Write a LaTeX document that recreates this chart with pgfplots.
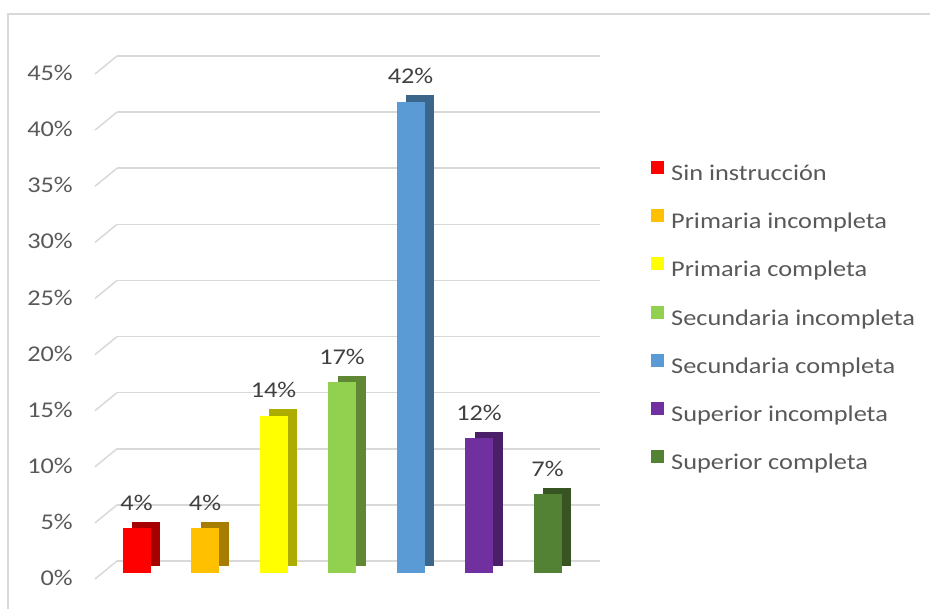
\documentclass[border=0pt]{standalone}
\usepackage{pgfplots}
\pgfplotsset{compat=1.18}
\usepackage{fontspec}
\setmainfont{Carlito}[FakeStretch=1.17]
\definecolor{gridc}{HTML}{D9D9D9}
\definecolor{txt}{HTML}{595959}
\definecolor{lbl}{HTML}{404040}
\definecolor{cA}{HTML}{FF0000}
\definecolor{cB}{HTML}{FFC000}
\definecolor{cC}{HTML}{FFFF00}
\definecolor{cD}{HTML}{92D050}
\definecolor{cE}{HTML}{5B9BD5}
\definecolor{cF}{HTML}{7030A0}
\definecolor{cG}{HTML}{548235}
\begin{document}
\begin{tikzpicture}[font=\fontsize{22.5}{27}\selectfont]
\useasboundingbox (0,0) rectangle (930pt,-609pt);
\draw[gridc, line width=1.2pt] (8pt,-700pt) -- (8pt,-14pt) -- (1000pt,-14pt);
\begin{axis}[
  scale only axis, width=483pt, height=505pt,
  at={(102pt,-573pt)}, anchor=south west,
  xmin=-0.504, xmax=6.547, ymin=0, ymax=45,
  axis line style={draw=none},
  xtick=\empty, ytick={0,5,...,45},
  major tick length=0pt,
  /pgf/number format/assume math mode=true,
  yticklabel={\pgfmathprintnumber{\tick}\%},
  yticklabel style={anchor=east, inner sep=0pt, xshift=-29pt, yshift=-5pt, text=txt},
  ymajorgrids,
  major grid style={draw=gridc, line width=1.5pt, xshift=15pt, yshift=12pt},
  clip=false,
  legend style={at={(axis description cs:1.1366,0.8158)}, anchor=north west, draw=none, fill=none, inner sep=0pt, column sep=7pt, row sep=23.6pt, text=txt, nodes={inner sep=0pt, text height=17pt, text depth=5pt}},
  legend cell align=left,
  side/.style={ybar, bar width=28pt, bar shift=9.5pt, yshift=6.5pt, draw=none, fill=#1, forget plot},
  front/.style={ybar, bar width=28pt, bar shift=0pt, draw=none, fill=#1,
    legend image code/.code={\fill[fill=#1] (0pt,0.5pt) rectangle (13pt,13.5pt);},
    nodes near coords={\pgfmathprintnumber{\pgfplotspointmeta}\%},
    every node near coord/.append style={anchor=base, yshift=18pt, text=lbl, inner sep=0pt}},
]
\pgfplotsinvokeforeach{0,5,...,45}{\draw[gridc, line width=1.5pt] ([shift={(-7pt,-6pt)}]axis cs:-0.504,#1) -- ([shift={(15pt,12pt)}]axis cs:-0.504,#1);}
\addplot[side=cA!65!black] coordinates {(0,4)};
\addplot[front=cA] coordinates {(0,4)};
\addlegendentry{Sin instrucción}
\addplot[side=cB!65!black] coordinates {(1,4)};
\addplot[front=cB] coordinates {(1,4)};
\addlegendentry{Primaria incompleta}
\addplot[side=cC!68!black] coordinates {(2,14)};
\addplot[front=cC] coordinates {(2,14)};
\addlegendentry{Primaria completa}
\addplot[side=cD!65!black] coordinates {(3,17)};
\addplot[front=cD] coordinates {(3,17)};
\addlegendentry{Secundaria incompleta}
\addplot[side=cE!65!black] coordinates {(4,42)};
\addplot[front=cE] coordinates {(4,42)};
\addlegendentry{Secundaria completa}
\addplot[side=cF!65!black] coordinates {(5,12)};
\addplot[front=cF] coordinates {(5,12)};
\addlegendentry{Superior incompleta}
\addplot[side=cG!65!black] coordinates {(6,7)};
\addplot[front=cG] coordinates {(6,7)};
\addlegendentry{Superior completa}
\end{axis}
\end{tikzpicture}
\end{document}
